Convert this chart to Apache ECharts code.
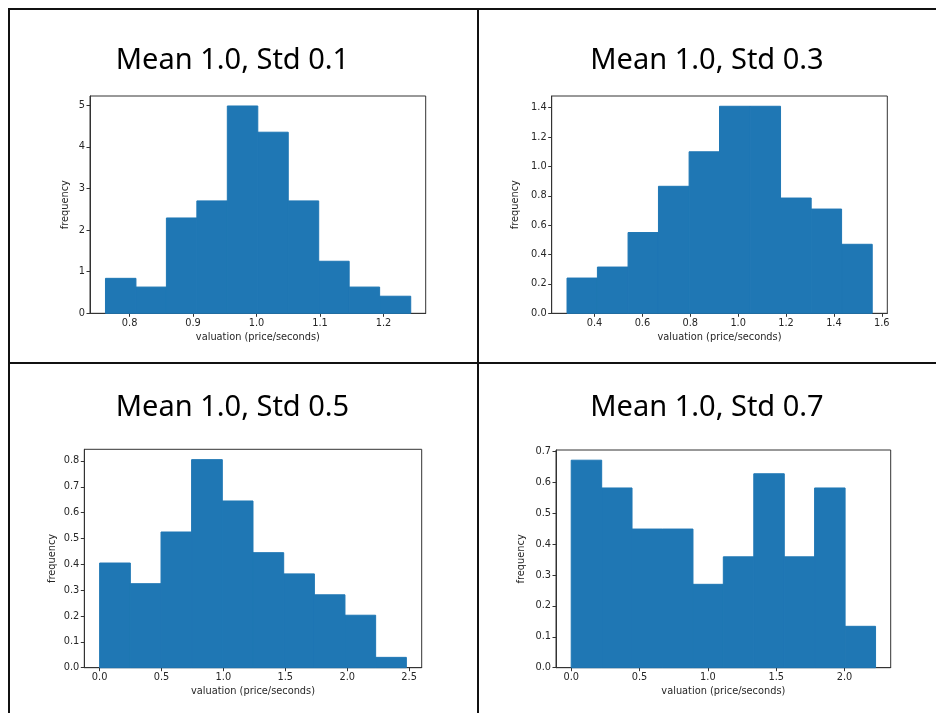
<!DOCTYPE html>
<html>
<head>
<meta charset="utf-8">
<script src="https://cdn.jsdelivr.net/npm/echarts@6/dist/echarts.min.js"></script>
<style>
  html, body { margin: 0; padding: 0; background: #fff; }
  #chart { width: 936px; height: 713px; }
</style>
</head>
<body>
<div id="chart"></div>
<script>
// ---- Data (density histograms, 10 bins each) ----
const titles = ['Mean 1.0, Std 0.1', 'Mean 1.0, Std 0.3', 'Mean 1.0, Std 0.5', 'Mean 1.0, Std 0.7'];
const xAxisName = 'valuation (price/seconds)';
const yAxisName = 'frequency';

const edges1 = [0.762, 0.810, 0.858, 0.906, 0.954, 1.002, 1.050, 1.098, 1.146, 1.194, 1.243];
const heights1 = [0.84, 0.63, 2.29, 2.70, 4.98, 4.35, 2.70, 1.25, 0.63, 0.41];
const edges2 = [0.285, 0.412, 0.540, 0.667, 0.795, 0.922, 1.050, 1.177, 1.305, 1.432, 1.560];
const heights2 = [0.24, 0.315, 0.55, 0.865, 1.10, 1.41, 1.41, 0.785, 0.71, 0.47];
const edges3 = [0.000, 0.248, 0.496, 0.743, 0.991, 1.239, 1.487, 1.735, 1.982, 2.230, 2.478];
const heights3 = [0.405, 0.325, 0.525, 0.805, 0.645, 0.445, 0.363, 0.282, 0.203, 0.040];
const edges4 = [0.000, 0.223, 0.445, 0.668, 0.891, 1.113, 1.336, 1.559, 1.781, 2.004, 2.227];
const heights4 = [0.672, 0.582, 0.449, 0.449, 0.270, 0.359, 0.628, 0.359, 0.582, 0.134];

// tick labels
const xTicks1 = [0.8, 0.9, 1.0, 1.1, 1.2];
const yTicks1 = [0, 1, 2, 3, 4, 5];
const xTicks2 = [0.4, 0.6, 0.8, 1.0, 1.2, 1.4, 1.6];
const yTicks2 = [0.0, 0.2, 0.4, 0.6, 0.8, 1.0, 1.2, 1.4];
const xTicks3 = [0.0, 0.5, 1.0, 1.5, 2.0, 2.5];
const yTicks3 = [0.0, 0.1, 0.2, 0.3, 0.4, 0.5, 0.6, 0.7, 0.8];
const xTicks4 = [0.0, 0.5, 1.0, 1.5, 2.0];
const yTicks4 = [0.0, 0.1, 0.2, 0.3, 0.4, 0.5, 0.6, 0.7];

// axis limits (matplotlib-style margins)
const xLimits = [[0.7376, 1.2666], [0.221, 1.623], [-0.1239, 2.602], [-0.1113, 2.3378]];
const yLimits = [[0, 5.22], [0, 1.48], [0, 0.845], [0, 0.705]];

// ---- Layout / style ----
const grids = [
  { left: 90,  top: 96,  width: 335.7, height: 217.3 },
  { left: 551.7, top: 96, width: 335.6, height: 217.3 },
  { left: 84.3, top: 449.3, width: 337.4, height: 218.4 },
  { left: 556, top: 450, width: 334.7, height: 217.7 }
];
const yNameGaps = [20, 31, 27, 30];
const yDecimals = [0, 1, 1, 1];
const titlePos = [[232.5, 61], [707, 61], [232.5, 408], [707, 408]];

const panels = [
  { edges: edges1, heights: heights1, xt: xTicks1, yt: yTicks1 },
  { edges: edges2, heights: heights2, xt: xTicks2, yt: yTicks2 },
  { edges: edges3, heights: heights3, xt: xTicks3, yt: yTicks3 },
  { edges: edges4, heights: heights4, xt: xTicks4, yt: yTicks4 }
];

const BAR = '#1f77b4';
const AX = '#333333';
const TXT = '#262626';
const FONT = 'DejaVu Sans';
const FS = 9.8;

const option = {
  animation: false,
  backgroundColor: '#ffffff',
  grid: grids.map(g => Object.assign({
    show: true, borderColor: AX, borderWidth: 1, backgroundColor: '#fff',
    containLabel: false, outerBoundsMode: 'none'
  }, g)),
  xAxis: panels.map((p, i) => ({
    type: 'value', gridIndex: i, min: xLimits[i][0], max: xLimits[i][1],
    name: xAxisName, nameLocation: 'middle', nameGap: 19,
    nameTextStyle: { fontFamily: FONT, fontSize: FS, color: TXT },
    axisLine: { show: true, onZero: false, lineStyle: { color: AX, width: 1 } },
    axisTick: { show: true, inside: false, length: 3.5, customValues: p.xt, lineStyle: { color: AX, width: 1 } },
    axisLabel: { show: true, customValues: p.xt, margin: 5, fontFamily: FONT, fontSize: FS, color: TXT,
      formatter: v => Number(v).toFixed(1) },
    splitLine: { show: false }
  })),
  yAxis: panels.map((p, i) => ({
    type: 'value', gridIndex: i, min: yLimits[i][0], max: yLimits[i][1],
    name: yAxisName, nameLocation: 'middle', nameGap: yNameGaps[i], nameRotate: 90,
    nameTextStyle: { fontFamily: FONT, fontSize: FS, color: TXT },
    axisLine: { show: true, onZero: false, lineStyle: { color: AX, width: 1 } },
    axisTick: { show: true, inside: false, length: 3.5, customValues: p.yt, lineStyle: { color: AX, width: 1 } },
    axisLabel: { show: true, customValues: p.yt, margin: 5, fontFamily: FONT, fontSize: FS, color: TXT,
      formatter: v => Number(v).toFixed(yDecimals[i]) },
    splitLine: { show: false }
  })),
  series: panels.map((p, i) => ({
    type: 'custom', xAxisIndex: i, yAxisIndex: i,
    encode: { x: [0, 1], y: 2 },
    data: p.heights.map((h, k) => [p.edges[k], p.edges[k + 1], h]),
    renderItem: function (params, api) {
      const a = api.coord([api.value(0), 0]);
      const b = api.coord([api.value(1), api.value(2)]);
      return {
        type: 'rect',
        shape: { x: a[0], y: b[1], width: b[0] - a[0], height: a[1] - b[1] },
        style: { fill: BAR, stroke: BAR, lineWidth: 1 }
      };
    }
  })),
  graphic: [
    { type: 'line', shape: { x1: 8, y1: 9, x2: 936, y2: 9 }, style: { stroke: '#111', lineWidth: 2 } },
    { type: 'line', shape: { x1: 9, y1: 8, x2: 9, y2: 713 }, style: { stroke: '#111', lineWidth: 2 } },
    { type: 'line', shape: { x1: 478, y1: 8, x2: 478, y2: 713 }, style: { stroke: '#111', lineWidth: 2 } },
    { type: 'line', shape: { x1: 8, y1: 363, x2: 936, y2: 363 }, style: { stroke: '#111', lineWidth: 2 } }
  ].concat(titles.map((t, i) => ({
    type: 'text', x: titlePos[i][0], y: titlePos[i][1],
    style: { text: t, fontFamily: 'Noto Sans', fontSize: 29, fill: '#000', align: 'center', verticalAlign: 'middle' }
  })))
};

const chart = echarts.init(document.getElementById('chart'), null, { renderer: 'canvas' });
chart.setOption(option);
</script>
</body>
</html>
